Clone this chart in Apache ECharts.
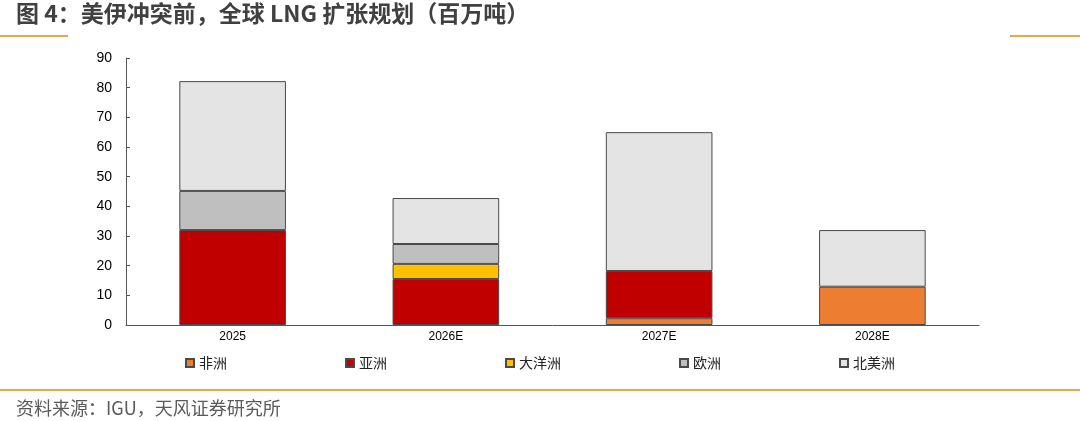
<!DOCTYPE html>
<html>
<head>
<meta charset="utf-8">
<script src="https://cdn.jsdelivr.net/npm/echarts@6/dist/echarts.min.js"></script>
<style>
  html, body { margin: 0; padding: 0; background: #fff; }
  #main { width: 1080px; height: 421px; }
</style>
</head>
<body>
<div id="main"></div>
<script>
// 数据（百万吨），null 表示该年无此地区
var categories = ['2025', '2026E', '2027E', '2028E'];
var africa = [null, null, 2.3, 12.9];
var asia = [32, 15.5, 15.9, null];
var oceania = [null, 5.1, null, null];
var europe = [13.2, 6.7, null, null];
var northAmerica = [37, 15.5, 46.8, 19.1];
var yTicks = [0, 10, 20, 30, 40, 50, 60, 70, 80, 90];

var chart = echarts.init(document.getElementById('main'));

function mk(name, data, color) {
  return {
    name: name,
    type: 'bar',
    stack: 'total',
    barWidth: '50%',
    data: data,
    itemStyle: { color: color, borderColor: '#4a4a4a', borderWidth: 1 }
  };
}

var option = {
  backgroundColor: '#ffffff',
  animation: false,
  textStyle: { fontFamily: 'Liberation Sans, Noto Sans CJK SC, sans-serif' },
  grid: { left: 126, right: 101, top: 58, bottom: 96 },
  legend: {
    left: 180,
    top: 351,
    itemWidth: 8,
    itemHeight: 8,
    itemGap: 118,
    icon: 'rect',
    textStyle: { fontSize: 14, color: '#222', fontFamily: 'Noto Sans CJK SC' },
    data: ['非洲', '亚洲', '大洋洲', '欧洲', '北美洲']
  },
  xAxis: {
    type: 'category',
    data: categories,
    axisLine: { lineStyle: { color: '#555' } },
    axisTick: { inside: true, length: 4, lineStyle: { color: '#555' } },
    axisLabel: { color: '#000', fontSize: 12, margin: 6 }
  },
  yAxis: {
    type: 'value',
    min: yTicks[0],
    max: yTicks[yTicks.length - 1],
    interval: 10,
    axisLine: { show: true, lineStyle: { color: '#555' } },
    axisTick: { show: true, inside: true, length: 4, lineStyle: { color: '#555' } },
    splitLine: { show: false },
    axisLabel: { color: '#000', fontSize: 14, margin: 14 }
  },
  series: [
    mk('非洲', africa, '#ED7D31'),
    mk('亚洲', asia, '#C00000'),
    mk('大洋洲', oceania, '#FFC000'),
    mk('欧洲', europe, '#BFBFBF'),
    mk('北美洲', northAmerica, '#E4E4E4')
  ],
  graphic: [
    {
      type: 'text', left: 16, top: 2,
      style: { text: '图 4：美伊冲突前，全球 LNG 扩张规划（百万吨）', fill: '#404040',
        font: 'bold 23px "Noto Sans CJK SC"' }
    },
    { type: 'rect', shape: { x: 0, y: 35, width: 68, height: 2 }, style: { fill: '#F0A54A' } },
    { type: 'rect', shape: { x: 1010, y: 35, width: 70, height: 2 }, style: { fill: '#F0A54A' } },
    { type: 'rect', shape: { x: 0, y: 389, width: 1080, height: 2 }, style: { fill: '#F0A54A' } },
    {
      type: 'text', left: 16, top: 399,
      style: { text: '资料来源：IGU，天风证券研究所', fill: '#5a5a5a',
        font: '18px "Noto Sans CJK SC"' }
    }
  ]
};

chart.setOption(option);
</script>
</body>
</html>
